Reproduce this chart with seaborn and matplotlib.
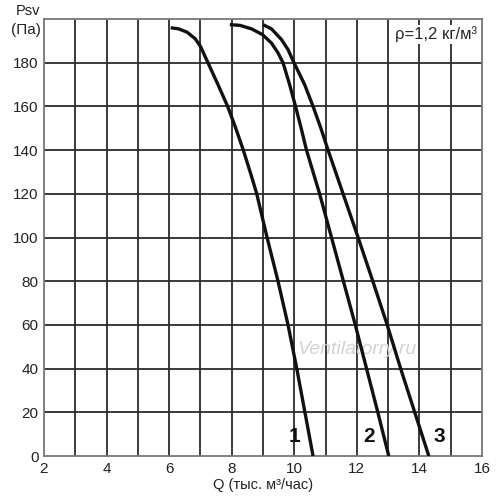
import numpy as np
import pandas as pd
import matplotlib.pyplot as plt
import seaborn as sns

sns.set_theme(style="white")
plt.rcParams['font.family'] = ['Liberation Sans', 'DejaVu Sans']

# Values (Q in thousand m3/h, Psv in Pa)
q1 = [6.05, 6.3, 6.57, 6.83, 7.0, 7.24, 7.56, 7.87, 8.13, 8.37, 8.59, 8.8, 9.13, 9.48, 9.8, 10.08, 10.34, 10.6]
p1 = [196, 195.5, 194, 191, 187.5, 180, 170, 160, 150, 140, 130, 120, 100, 80, 60, 40, 20, 0]

q2 = [7.94, 8.26, 8.63, 8.98, 9.27, 9.48, 9.64, 9.85, 10.04, 10.22, 10.39, 10.81, 11.19, 11.57, 11.95, 12.31, 12.67, 13.02]
p2 = [197.4, 197.1, 195.5, 192.9, 189, 184.5, 180, 170, 160, 150, 140, 120, 100, 80, 60, 40, 20, 0]

q3 = [9.0, 9.27, 9.59, 9.8, 9.99, 10.33, 10.6, 10.85, 11.08, 11.56, 12.04, 12.51, 12.97, 13.4, 13.85, 14.3]
p3 = [197.4, 195.5, 190.6, 186, 180, 170, 160, 150, 140, 120, 100, 80, 60, 40, 20, 0]

curve_names = ["1", "2", "3"]
label_q = [10.0, 12.4, 14.65]
label_p = [4.5, 4.5, 4.5]

x_ticks = [2, 4, 6, 8, 10, 12, 14, 16]
y_ticks = [0, 20, 40, 60, 80, 100, 120, 140, 160, 180]

df = pd.concat([
    pd.DataFrame({"Q": q, "P": p, "curve": name})
    for q, p, name in zip([q1, q2, q3], [p1, p2, p3], curve_names)
])

fig = plt.figure(figsize=(5, 5), dpi=100)
ax = fig.add_axes([0.088, 0.088, 0.876, 0.874])

# grid: every 1 on Q, every 20 on Psv
for x in np.arange(3, 16, 1):
    ax.axvline(x, color="#2b2b2b", lw=1.3, zorder=1)
for y in np.arange(20, 200, 20):
    ax.axhline(y, color="#2b2b2b", lw=1.3, zorder=1)

ax.text(12.0, 48.6, "Ventilatorry.ru", fontsize=14, style="italic",
        color="#d2d2d2", ha="center", va="center", zorder=2)

sns.lineplot(data=df, x="Q", y="P", hue="curve", units="curve", estimator=None,
             sort=False, palette=["#111111"] * 3, lw=2.4, legend=False, ax=ax, zorder=3)
for line in ax.get_lines():
    line.set_solid_joinstyle("round")
    line.set_solid_capstyle("butt")

for name, q, p in zip(curve_names, label_q, label_p):
    ax.text(q, p, name, fontsize=15, fontweight="bold", ha="center", va="bottom",
            family=["Liberation Sans Narrow", "Liberation Sans"], color="#111111", zorder=4)

ax.text(15.85, 193, "ρ=1,2 кг/м³", fontsize=12, ha="right", va="center", zorder=4,
        bbox=dict(facecolor="white", edgecolor="none", pad=1))

ax.set_xlim(2, 16)
ax.set_ylim(0, 200)
ax.set_xticks(x_ticks)
ax.set_yticks(y_ticks)
ax.tick_params(length=0, labelsize=11, pad=4, colors="#222222")
ax.set_xlabel("Q (тыс. м³/час)", fontsize=10.5, labelpad=2, color="#222222")
ax.set_ylabel("")
for s in ax.spines.values():
    s.set_color("#777777")
    s.set_linewidth(1.3)

fig.text(0.056, 0.978, "Psv", fontsize=10.5, ha="center", va="center", color="#222222")
fig.text(0.052, 0.94, "(Па)", fontsize=11, ha="center", va="center", color="#222222")

fig.savefig("out.png", dpi=100)
